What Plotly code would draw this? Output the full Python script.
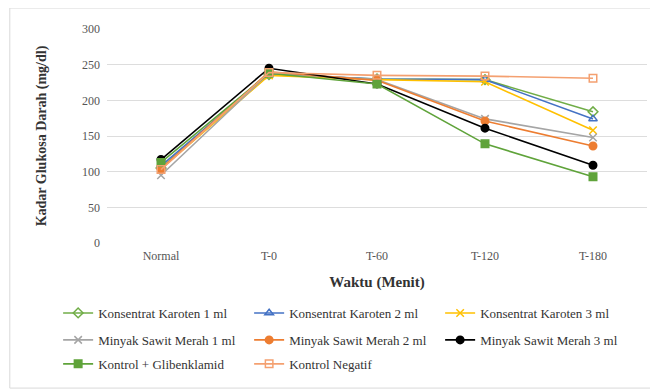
import plotly.graph_objects as go

categories = ["Normal", "T-0", "T-60", "T-120", "T-180"]

k1 = [105, 236, 230, 229, 184]
k2 = [108, 237, 230, 229, 174]
k3 = [104, 235, 229, 226, 158]
msm1 = [95, 238, 229, 174, 148]
msm2 = [104, 240, 228, 171, 136]
msm3 = [117, 245, 223, 161, 109]
gliben = [113, 238, 223, 139, 93]
neg = [103, 239, 235, 234, 231]

series = [
    ("Konsentrat Karoten 1 ml", k1, "#70AD47", "diamond-open", "legend"),
    ("Konsentrat Karoten 2 ml", k2, "#4472C4", "triangle-up-open", "legend"),
    ("Konsentrat Karoten 3 ml", k3, "#FFC000", "x-thin-open", "legend"),
    ("Minyak Sawit Merah 1 ml", msm1, "#A5A5A5", "x-thin-open", "legend2"),
    ("Minyak Sawit Merah 2 ml", msm2, "#ED7D31", "circle", "legend2"),
    ("Minyak Sawit Merah 3 ml", msm3, "#000000", "circle", "legend2"),
    ("Kontrol + Glibenklamid", gliben, "#5FA33A", "square", "legend3"),
    ("Kontrol Negatif", neg, "#F4A070", "square-open", "legend3"),
]

fig = go.Figure()
for name, vals, color, sym, leg in series:
    fig.add_trace(go.Scatter(
        x=categories, y=vals, name=name, mode="lines+markers", legend=leg,
        line=dict(color=color, width=1.6),
        marker=dict(symbol=sym, size=7.5, color=color,
                    line=dict(color=color, width=1.5)),
    ))

font_family = "Liberation Serif"


def leg_style(yval):
    return dict(orientation="h", x=-0.0905, y=yval, xanchor="left", yanchor="middle",
                entrywidth=146, entrywidthmode="pixels",
                font=dict(family=font_family, size=13, color="#333333"),
                itemwidth=30, bgcolor="rgba(0,0,0,0)")


fig.update_layout(
    width=650, height=382,
    margin=dict(l=99, r=11, t=21, b=147),
    paper_bgcolor="white", plot_bgcolor="white",
    font=dict(family=font_family, size=12, color="#333333"),
    showlegend=True,
    legend=leg_style(-0.327),
    legend2=leg_style(-0.453),
    legend3=leg_style(-0.565),
    xaxis=dict(type="category", range=[-0.5, 4.5], showgrid=False, zeroline=False,
               tickfont=dict(family=font_family, size=12, color="#555555"),
               ticklabelstandoff=4,
               title=dict(text="<b>Waktu (Menit)</b>", standoff=14,
                          font=dict(family=font_family, size=15, color="#333333")),
               showline=False, ticks=""),
    yaxis=dict(range=[0, 300], dtick=50, showgrid=True, gridcolor="#DDDDDD",
               gridwidth=1, zeroline=False, showline=False,
               tickfont=dict(family=font_family, size=12, color="#555555"),
               ticklabelstandoff=6,
               title=dict(text="<b>Kadar Glukosa Darah (mg/dl)</b>", standoff=32,
                          font=dict(family=font_family, size=14, color="#333333"))),
    shapes=[dict(type="rect", xref="paper", yref="paper",
                 x0=-0.18, x1=1.009, y0=-0.678, y1=1.098,
                 line=dict(color="#D9D9D9", width=1), fillcolor="rgba(0,0,0,0)",
                 layer="below")],
)

fig.write_html("out.html")
